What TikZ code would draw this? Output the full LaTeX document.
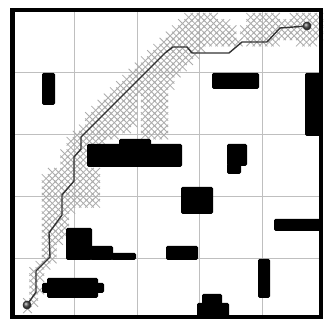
\documentclass[tikz,border=0pt]{standalone}
\usetikzlibrary{shadings}
\begin{document}
\begin{tikzpicture}[x=1pt,y=-1pt,
  gridline/.style={draw=gray!50,line width=0.8pt},
  xm/.style={draw=gray!65,line width=0.8pt},
  obst/.style={fill=black,rounded corners=1.5pt},
  route/.style={draw=black!80,line width=1.4pt},
  dotst/.style={circle,inner sep=0pt,minimum size=8pt,ball color=black!70,draw=black!80},
  frame/.style={draw=black,line width=4.5pt}]
\useasboundingbox (0,0) rectangle (330,320);
% grid
\foreach \g in {74,137,199,262} {
  \draw[gridline] (\g,10) -- (\g,317);
}
\foreach \g in {72,134,196,258} {
  \draw[gridline] (12.5,\g) -- (321,\g);
}
% explored cells (crosses)
\foreach \j/\a/\b in {1/2/2,2/2/3,3/3/3,4/3/4,5/3/3,6/3/4,7/3/4,8/4/5,9/5/6,
  10/5/6,11/5/6,12/5/7,13/5/8,14/5/8,15/5/8,16/5/8,17/5/9,18/5/13,19/5/13,
  20/5/13,21/5/13,22/5/13,23/6/13,24/8/11,25/8/11,26/8/12,27/9/13,28/9/14,
  29/10/16,30/11/18,31/12/19,32/12/19,33/13/19,34/14/19,35/15/19,
  29/21/24,30/21/24,31/21/24,32/21/24,33/21/24,34/21/24,35/21/24,
  36/16/24,37/17/25,38/18/25,39/19/26,40/20/27,41/21/28,42/22/29,43/23/30,
  44/24/36,44/38/42,44/46/48,45/25/35,45/37/49,46/26/35,46/37/49,
  47/27/34,47/38/49,48/28/32,48/38/42,48/45/49} {
  \foreach \i in {\a,...,\b} {
    \pgfmathsetmacro{\cx}{12+6.2*(\i+0.5)}
    \pgfmathsetmacro{\cy}{318-6.2*(\j+0.5)}
    \draw[xm] (\cx-4.3,\cy-4.3) -- (\cx+4.3,\cy+4.3) (\cx-4.3,\cy+4.3) -- (\cx+4.3,\cy-4.3);
  }
}
% obstacles
\fill[obst] (42,73) rectangle (55,105);
\fill[obst] (87,144) rectangle (182,167);
\fill[obst] (119,139) rectangle (151,146);
\fill[obst] (212,73) rectangle (259,89);
\fill[obst] (305,73) rectangle (321,136);
\fill[obst] (227,144) rectangle (247,166);
\fill[obst] (227,164) rectangle (241,174);
\fill[obst] (181,187) rectangle (213,214);
\fill[obst] (274,219) rectangle (321,231);
\fill[obst] (166,246) rectangle (198,260);
\fill[obst] (258,259) rectangle (270,298);
\fill[obst] (197,303) rectangle (229,317);
\fill[obst] (202,294) rectangle (222,305);
\fill[obst] (66,228) rectangle (92,260);
\fill[obst] (90,246) rectangle (113,260);
\fill[obst] (111,253) rectangle (136,260);
\fill[obst] (47,278) rectangle (98,298);
\fill[obst] (42,283) rectangle (104,293);
% frame
\draw[frame] (12.5,10) rectangle (321,317);
% start and goal
\node[dotst] (start) at (27,305) {};
\node[dotst] (goal) at (307,26) {};
% route
\draw[route] (start.center) -- (36,292) -- (36,271) -- (50,257) -- (49,233)
  -- (62,215) -- (62,195) -- (74,181) -- (74,157) -- (81,149) -- (81,137)
  -- (165,53) -- (173,47) -- (187,47) -- (192,53) -- (229,53) -- (242,42)
  -- (267,42) -- (280,28) -- (goal.center);
\node[dotst] at (start) {};
\node[dotst] at (goal) {};
\end{tikzpicture}
\end{document}
